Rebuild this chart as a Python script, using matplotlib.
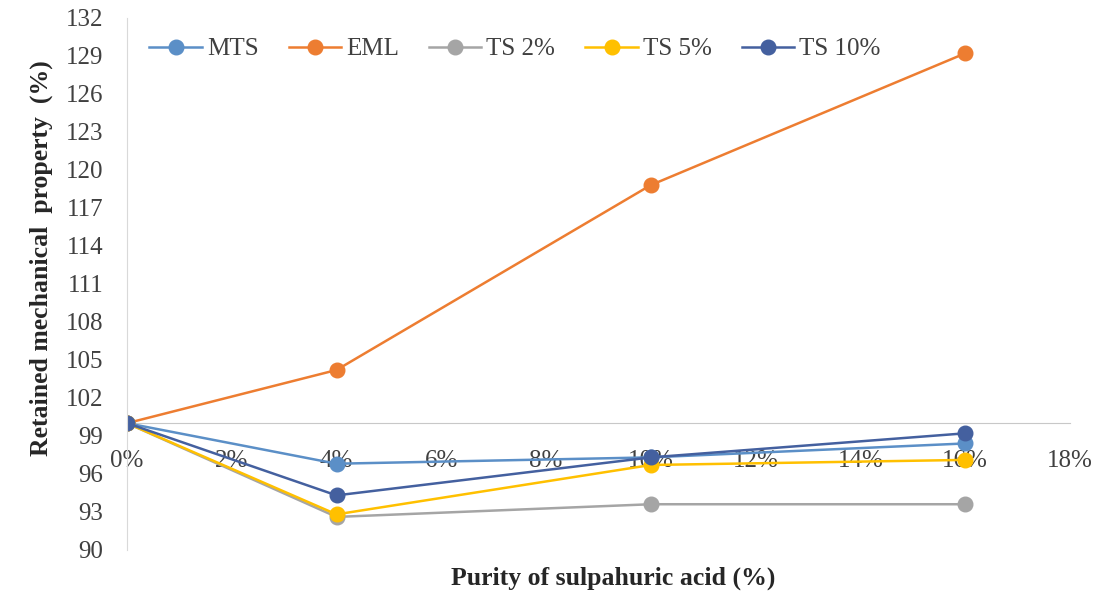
import matplotlib.pyplot as plt

# purity of sulphuric acid (%) and retained property (%)
purity = [0, 4, 10, 16]
mts = [100, 96.8, 97.3, 98.4]
eml = [100, 104.2, 118.8, 129.2]
ts2 = [100, 92.6, 93.6, 93.6]
ts5 = [100, 92.8, 96.7, 97.1]
ts10 = [100, 94.3, 97.3, 99.2]

series = [("MTS", mts, "#5b8fc7"),
          ("EML", eml, "#ed7d31"),
          ("TS 2%", ts2, "#a5a5a5"),
          ("TS 5%", ts5, "#ffc000"),
          ("TS 10%", ts10, "#44609f")]

plt.rcParams['font.family'] = ['Liberation Serif', 'DejaVu Serif']

fig = plt.figure(figsize=(11.08, 5.97), dpi=100)
ax = fig.add_axes([0.1146, 0.079, 0.851, 0.891])

for name, vals, col in series:
    ax.plot(purity, vals, color=col, lw=1.8, marker='o', markersize=10.5,
            label=name)

ax.set_xlim(0, 18)
ax.set_ylim(90, 132)
ax.set_yticks(range(90, 133, 3))
ax.set_xticks(range(0, 19, 2))
ax.set_xticklabels([f"{v}%" for v in range(0, 19, 2)])

# x axis crosses at 100
ax.spines['bottom'].set_position(('data', 100))
ax.spines['bottom'].set_color('#c8c8c8')
ax.spines['bottom'].set_zorder(0)
ax.spines['left'].set_color('#d9d9d9')
ax.spines['top'].set_visible(False)
ax.spines['right'].set_visible(False)
ax.tick_params(axis='both', length=0, labelsize=18, labelcolor='#404040')
ax.tick_params(axis='x', pad=19)
ax.tick_params(axis='y', pad=17)

fig.text(0.037, 0.567, "Retained mechanical  property  (%)", fontsize=18.5,
         fontweight='bold', color='#262626', rotation=90,
         ha='center', va='center')
fig.text(0.553, 0.032, "Purity of sulpahuric acid (%)", fontsize=18.5,
         fontweight='bold', color='#262626', ha='center', va='center')

ax.legend(loc='upper left', bbox_to_anchor=(0.0, 1.005), ncol=5, frameon=False,
          fontsize=18, handlelength=2.1, handletextpad=0.2, columnspacing=1.2,
          labelcolor='#404040')

fig.savefig("out.png")
